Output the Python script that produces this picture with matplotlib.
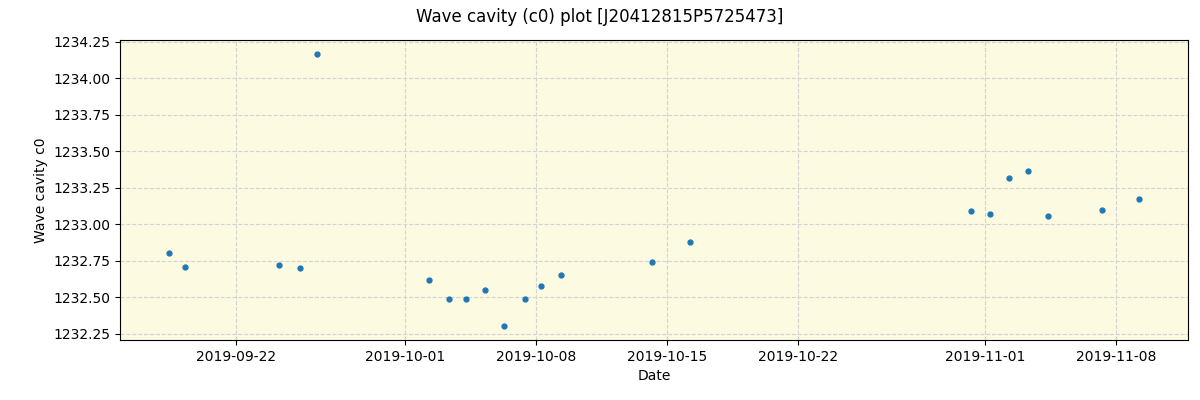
import pandas as pd
import matplotlib
matplotlib.use("Agg")
import matplotlib.pyplot as plt

dates = pd.to_datetime([
    "2019-09-18 09:00", "2019-09-19 06:30", "2019-09-24 07:00", "2019-09-25 09:00",
    "2019-09-26 07:00", "2019-10-02 06:45", "2019-10-03 08:30", "2019-10-04 06:15",
    "2019-10-05 06:45", "2019-10-06 07:00", "2019-10-07 10:00", "2019-10-08 06:30",
    "2019-10-09 08:15", "2019-10-14 04:45", "2019-10-16 05:30", "2019-10-31 06:00",
    "2019-11-01 06:30", "2019-11-02 06:45", "2019-11-03 07:15", "2019-11-04 07:45",
    "2019-11-07 06:00", "2019-11-09 05:30",
])
c0 = [1232.80, 1232.705, 1232.72, 1232.70, 1234.17, 1232.62, 1232.485, 1232.485,
      1232.55, 1232.30, 1232.485, 1232.58, 1232.655, 1232.74, 1232.88, 1233.09,
      1233.07, 1233.32, 1233.365, 1233.06, 1233.10, 1233.17]

fig, ax = plt.subplots(figsize=(12, 4), dpi=100)
ax.set_facecolor('#fcfae1')
ax.plot(dates, c0, 'o', color='#1f77b4', markersize=3.5)
ax.grid(True, linestyle='--', color='lightgray')
ax.set_axisbelow(True)

ax.set_xticks(pd.to_datetime(["2019-09-22", "2019-10-01", "2019-10-08", "2019-10-15",
                              "2019-10-22", "2019-11-01", "2019-11-08"]))
ax.xaxis.set_major_formatter(matplotlib.dates.DateFormatter('%Y-%m-%d'))

ax.set_xlabel('Date')
ax.set_ylabel('Wave cavity c0')
fig.suptitle('Wave cavity (c0) plot [J20412815P5725473]')
plt.subplots_adjust(left=0.1, right=0.99, top=0.9, bottom=0.15)
plt.savefig('out.png')
